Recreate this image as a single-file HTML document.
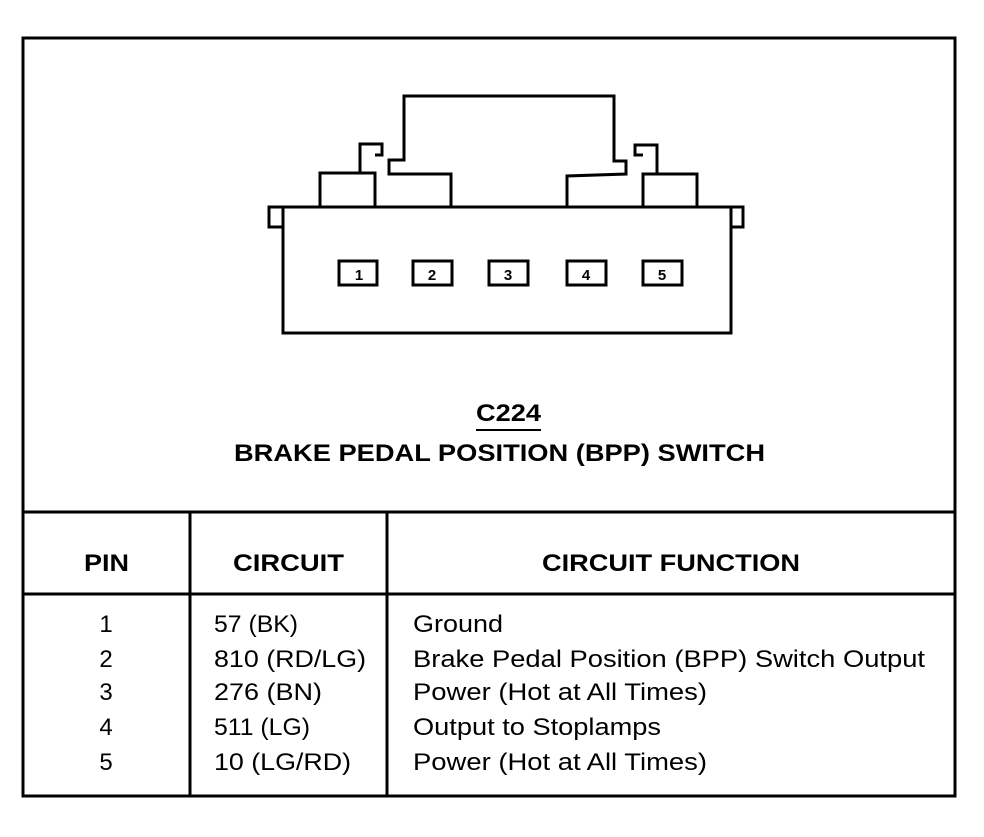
<!DOCTYPE html>
<html><head><style>
body{margin:0;background:#fff;}
svg text{font-family:"Liberation Sans",Arial,sans-serif;fill:#000;}
</style></head><body>
<svg width="984" height="832" viewBox="0 0 984 832" xmlns="http://www.w3.org/2000/svg">
<g fill="none" stroke="#000" stroke-width="3" stroke-linejoin="miter">
<rect x="23" y="38" width="932" height="758"/>
<line x1="23" y1="512" x2="955" y2="512"/>
<line x1="23" y1="594" x2="955" y2="594"/>
<line x1="190" y1="512" x2="190" y2="796"/>
<line x1="387" y1="512" x2="387" y2="796"/>
<rect x="283" y="207" width="448" height="126"/>
<rect x="269" y="207" width="14" height="20"/>
<rect x="731" y="207" width="12" height="20"/>
<polyline points="320,207 320,173 375,173 375,207"/>
<polyline points="360,173 360,144 382,144 382,155 375,155"/>
<polyline points="451,207 451,174 389,174 389,160 404,160 404,96 614,96 614,161 626,161 626,174 567,176 567,207"/>
<polyline points="643,207 643,174 697,174 697,207"/>
<polyline points="657,173 657,145 635,145 635,155 643,155"/>
<rect x="339" y="261" width="38" height="24"/>
<rect x="413" y="261" width="39" height="24"/>
<rect x="489" y="261" width="39" height="24"/>
<rect x="567" y="261" width="39" height="24"/>
<rect x="643" y="261" width="39" height="24"/>
<line x1="476" y1="430" x2="541" y2="430" stroke-width="2"/>
</g>
<g font-size="15" font-weight="bold" text-anchor="middle">
<text x="359" y="280">1</text><text x="432" y="280">2</text><text x="508" y="280">3</text><text x="586" y="280">4</text><text x="662" y="280">5</text>
</g>
<g font-weight="bold" font-size="24" lengthAdjust="spacingAndGlyphs">
<text x="476" y="421" textLength="65" lengthAdjust="spacingAndGlyphs">C224</text>
<text x="234" y="461" textLength="531" lengthAdjust="spacingAndGlyphs">BRAKE PEDAL POSITION (BPP) SWITCH</text>
<text x="84" y="571" textLength="45" lengthAdjust="spacingAndGlyphs">PIN</text>
<text x="233" y="571" textLength="111" lengthAdjust="spacingAndGlyphs">CIRCUIT</text>
<text x="542" y="571" textLength="258" lengthAdjust="spacingAndGlyphs">CIRCUIT FUNCTION</text>
</g>
<g font-size="24">
<g text-anchor="middle">
<text x="106" y="632">1</text><text x="106" y="667">2</text><text x="106" y="700">3</text><text x="106" y="735">4</text><text x="106" y="770">5</text>
</g>
<text x="214" y="632" textLength="84" lengthAdjust="spacingAndGlyphs">57 (BK)</text>
<text x="214" y="667" textLength="152" lengthAdjust="spacingAndGlyphs">810 (RD/LG)</text>
<text x="214" y="700" textLength="108" lengthAdjust="spacingAndGlyphs">276 (BN)</text>
<text x="214" y="735" textLength="96" lengthAdjust="spacingAndGlyphs">511 (LG)</text>
<text x="214" y="770" textLength="137" lengthAdjust="spacingAndGlyphs">10 (LG/RD)</text>
<text x="413" y="632" textLength="90" lengthAdjust="spacingAndGlyphs">Ground</text>
<text x="413" y="667" textLength="512" lengthAdjust="spacingAndGlyphs">Brake Pedal Position (BPP) Switch Output</text>
<text x="413" y="700" textLength="294" lengthAdjust="spacingAndGlyphs">Power (Hot at All Times)</text>
<text x="413" y="735" textLength="248" lengthAdjust="spacingAndGlyphs">Output to Stoplamps</text>
<text x="413" y="770" textLength="294" lengthAdjust="spacingAndGlyphs">Power (Hot at All Times)</text>
</g>
</svg>
</body></html>
